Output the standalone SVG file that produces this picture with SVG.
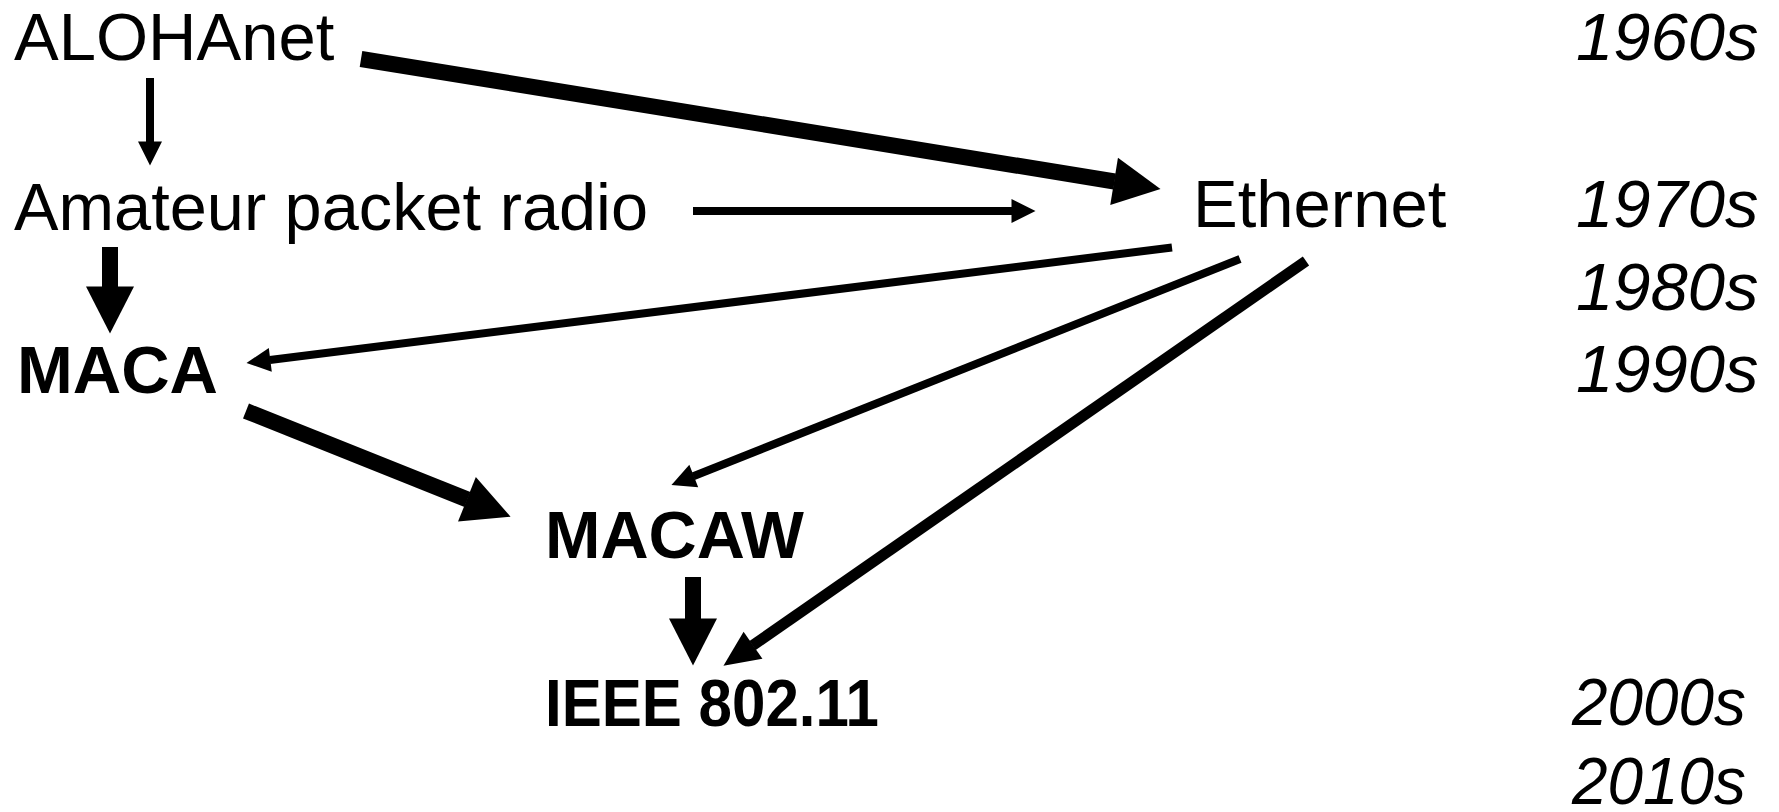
<svg xmlns="http://www.w3.org/2000/svg" width="1779" height="812" viewBox="0 0 1779 812">
  <style>
    text { font-family: "Liberation Sans", Arial, sans-serif; font-size: 67px; fill: #000; }
    .bold { font-weight: bold; }
    .era { font-style: italic; }
    .thin { stroke: #000; stroke-width: 8; fill: none; marker-end: url(#head-thin); }
    .mid { stroke: #000; stroke-width: 11; fill: none; marker-end: url(#head-mid); }
    .thick { stroke: #000; stroke-width: 16; fill: none; marker-end: url(#head-thick); }
  </style>
  <defs>
    <marker id="head-thin" markerUnits="userSpaceOnUse" viewBox="0 0 24 24" markerWidth="24" markerHeight="24" refX="0.5" refY="12" orient="auto" overflow="visible">
      <path d="M0,0 L24,12 L0,24 Z" fill="#000"/>
    </marker>
    <marker id="head-mid" markerUnits="userSpaceOnUse" viewBox="0 0 36 33" markerWidth="36" markerHeight="33" refX="0.5" refY="16.5" orient="auto" overflow="visible">
      <path d="M0,0 L36,16.5 L0,33 Z" fill="#000"/>
    </marker>
    <marker id="head-thick" markerUnits="userSpaceOnUse" viewBox="0 0 47 48" markerWidth="47" markerHeight="48" refX="0.5" refY="24" orient="auto" overflow="visible">
      <path d="M0,0 L47,24 L0,48 Z" fill="#000"/>
    </marker>
  </defs>

  <rect width="1779" height="812" fill="#fff"/>

  <!-- lineage connectors: each line stops at the base of its arrowhead -->
  <g id="connectors">
    <path id="aloha-to-amateur" class="thin" d="M150,78 L150,142"/>
    <path id="amateur-to-maca" class="thick" d="M110,247 L110,287"/>
    <path id="amateur-to-ethernet" class="thin" d="M693,211 L1012,211"/>
    <path id="aloha-to-ethernet" class="thick" d="M361,59 L1114.6,181.5"/>
    <path id="ethernet-to-maca" class="thin" d="M1172,247.5 L269.8,360"/>
    <path id="ethernet-to-macaw" class="thin" d="M1240,259 L693.3,476.2"/>
    <path id="ethernet-to-ieee" class="mid" d="M1306,261 L752.6,645.5"/>
    <path id="maca-to-macaw" class="thick" d="M246,411 L467.4,499.5"/>
    <path id="macaw-to-ieee" class="thick" d="M693,577 L693,619"/>
  </g>

  <!-- protocols -->
  <g id="aloha"><text x="14" y="60">ALOHAnet</text></g>
  <g id="amateur"><text x="14" y="230" textLength="634" lengthAdjust="spacingAndGlyphs">Amateur packet radio</text></g>
  <g id="ethernet"><text x="1193" y="227">Ethernet</text></g>
  <g id="maca"><text class="bold" x="17" y="393">MACA</text></g>
  <g id="macaw"><text class="bold" x="545" y="558" textLength="259" lengthAdjust="spacingAndGlyphs">MACAW</text></g>
  <g id="ieee"><text class="bold" x="545" y="726" textLength="334" lengthAdjust="spacingAndGlyphs">IEEE 802.11</text></g>

  <!-- decade axis -->
  <g id="decades">
    <text class="era" x="1576" y="60">1960s</text>
    <text class="era" x="1576" y="227">1970s</text>
    <text class="era" x="1576" y="310">1980s</text>
    <text class="era" x="1576" y="392">1990s</text>
    <text class="era" x="1572" y="725" textLength="174" lengthAdjust="spacingAndGlyphs">2000s</text>
    <text class="era" x="1572" y="804" textLength="174" lengthAdjust="spacingAndGlyphs">2010s</text>
  </g>
</svg>
